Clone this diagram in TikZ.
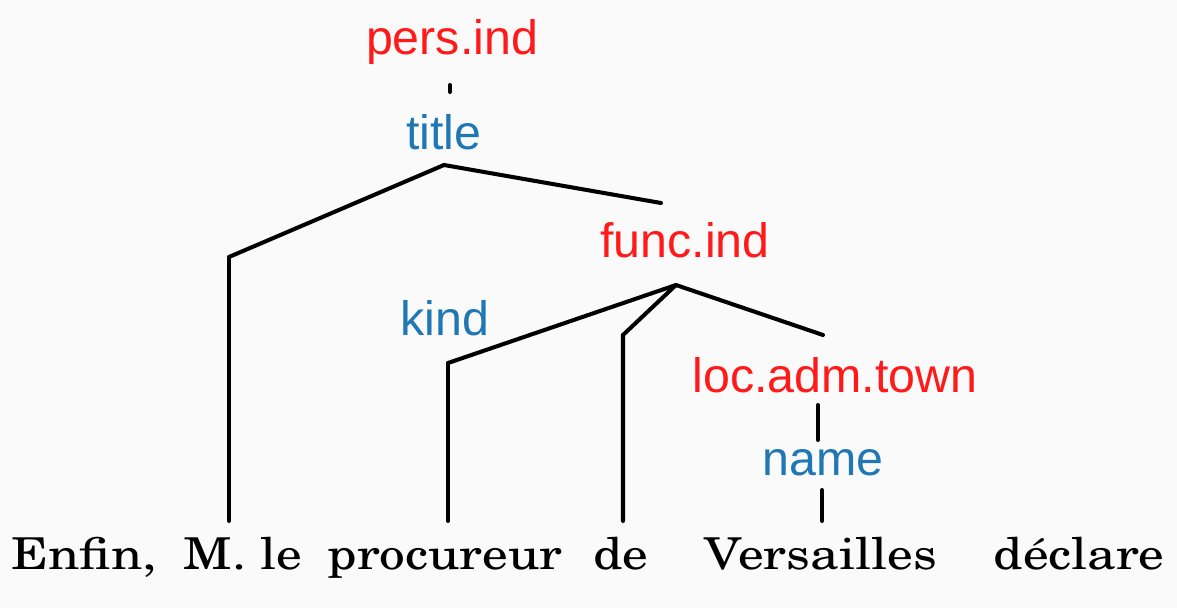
\documentclass[tikz,border=0pt]{standalone}
\usepackage[T1]{fontenc}
\usepackage{fontspec}
\setsansfont{Liberation Sans}
\definecolor{tagred}{RGB}{255,25,25}
\definecolor{tagblue}{RGB}{31,119,180}
\definecolor{bggray}{RGB}{250,250,250}

\begin{document}
\begin{tikzpicture}[x=0.02cm,y=-0.02cm,line width=2.3pt,line cap=round]
\tikzstyle{tag}=[font=\sffamily\fontsize{27.5}{30}\selectfont,inner sep=0pt,anchor=base]
\tikzstyle{entity tag}=[tag,text=tagred]
\tikzstyle{attr tag}=[tag,text=tagblue]
\tikzstyle{word}=[font=\fontencoding{T1}\fontfamily{pnc}\fontsize{25}{30}\selectfont,inner sep=0pt,text height=0.92cm,anchor=base,xscale=1.17,transform shape]

% Background
\fill[bggray] (0,0) rectangle (1177,608);
\useasboundingbox (0,0) rectangle (1177,608);

% Draw the tags
\node[entity tag] (pers) at (452,55) {pers.ind};
\node[attr tag] (title) at (444,150) {title};
\node[entity tag] (func) at (685,257) {func.ind};
\node[attr tag] (kind) at (445,335) {kind};
\node[entity tag] (loc) at (835,392) {loc.adm.town};
\node[attr tag] (name) at (823,475) {name};

% Draw the sentence
\foreach \name / \x / \txt in {enfin/84/{Enfin,},mle/243/{M. le},procureur/445/procureur,de/621/de,versailles/821/Versailles,declare/1079/déclare}
\node[word] (\name) at (\x,569) {\txt};

% Joints of the tree
\coordinate (pers-f) at (450,85);
\coordinate (title-t) at (450,92);
\coordinate (title-f) at (444,165);
\coordinate (j-mle) at (229,257);
\coordinate (func-t) at (661,203);
\coordinate (func-f) at (676,285);
\coordinate (j-proc) at (448,363);
\coordinate (j-de) at (623,335);
\coordinate (loc-t) at (823,335);
\coordinate (loc-f) at (818,405);
\coordinate (name-t) at (818,440);
\coordinate (name-f) at (822,490);

% Connect the tags with each other and with the words
\draw (pers-f) -- (title-t);
\draw (j-mle) -- (title-f) -- (func-t);
\draw (j-mle) -- (j-mle |- mle.north);
\draw (j-proc) -- (func-f) -- (loc-t);
\draw (func-f) -- (j-de) -- (j-de |- de.north);
\draw (j-proc) -- (j-proc |- procureur.north);
\draw (loc-f) -- (name-t);
\draw (name-f) -- (name-f |- versailles.north);
\end{tikzpicture}
\end{document}
